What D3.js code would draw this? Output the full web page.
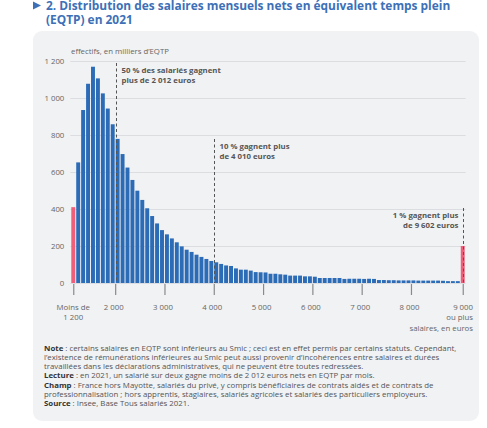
<!DOCTYPE html>
<html><head><meta charset="utf-8">
<script src="https://cdn.jsdelivr.net/npm/d3@7"></script>
<style>
html,body{margin:0;padding:0;background:#fff;}
svg{display:block;font-family:"Open Sans",sans-serif;}
</style></head>
<body><svg id="c" width="487" height="428"></svg>
<script>
// ---- data ----
const binStarts = d3.range(1200, 9000, 100); // 1200 ... 8900
const categories = ["<1200"].concat(binStarts.map(String)).concat([">=9000"]);
const values = [410,
 652,935,1077,1169,1106,1025,943,858,779,697,
 624,557,499,449,404,362,322,286,263,241,
 220,198,180,168,153,141,130,119,112,103,
 95,92,79,72,72,67,59,58,57,50,
 50,47,45,40,40,40,36,36,34,27,
 27,27,27,27,22,23,23,23,22,23,
 22,16,16,15,15,14,14,14,14,13,
 13,13,13,13,12,10,10,10,
 200];
const yTicks = [0,200,400,600,800,1000,1200];
const xTicks = [2000,3000,4000,5000,6000,7000,8000];
const markers = [
  {v:2012, top:63, lines:["50 % des salariés gagnent","plus de 2 012 euros"], anchor:"start"},
  {v:4010, top:139, lines:["10 % gagnent plus","de 4 010 euros"], anchor:"start"},
  {v:9050, top:208, lines:["1 % gagnent plus","de 9 602 euros"], anchor:"end"}
];
const title = ["2. Distribution des salaires mensuels nets en équivalent temps plein","(EQTP) en 2021"];
const notes = [
  [["Note",true],[" : certains salaires en EQTP sont inférieurs au Smic ; ceci est en effet permis par certains statuts. Cependant,",false]],
  [["l’existence de rémunérations inférieures au Smic peut aussi provenir d’incohérences entre salaires et durées",false]],
  [["travaillées dans les déclarations administratives, qui ne peuvent être toutes redressées.",false]],
  [["Lecture",true],[" : en 2021, un salarié sur deux gagne moins de 2 012 euros nets en EQTP par mois.",false]],
  [["Champ",true],[" : France hors Mayotte, salariés du privé, y compris bénéficiaires de contrats aidés et de contrats de",false]],
  [["professionnalisation ; hors apprentis, stagiaires, salariés agricoles et salariés des particuliers employeurs.",false]],
  [["Source",true],[" : Insee, Base Tous salariés 2021.",false]]
];

// ---- layout ----
const svg = d3.select("#c");
const blue = "#2c6cb7", pink = "#ef5f7a", txt = "#666";
const X0 = 70.8, X1 = 465.2, Y0 = 283, Y1 = 61;

// page title
svg.append("path").attr("d","M33,1.5 L41,5.5 L33,9.5 Z").attr("fill","#3d70b7");
const tt = svg.append("text").attr("font-size",11.9).attr("font-weight",700).attr("fill","#3d70b7");
title.forEach((t,i)=>tt.append("tspan").attr("x",46).attr("y",10+i*14).text(t));

// panel
svg.append("rect").attr("x",33).attr("y",31).attr("width",446).attr("height",390).attr("rx",9).attr("fill","#f1f2f4");

const x = d3.scaleBand().domain(categories).range([X0,X1]).paddingInner(0.2).paddingOuter(0.1);
const xLin = d3.scaleLinear().domain([1100,9100]).range([X0,X1]);
const y = d3.scaleLinear().domain([0,1200]).range([Y0,Y1]);
const fmt = d3.formatLocale({decimal:",",thousands:"\u202f",grouping:[3],currency:["","€"]}).format(",");
const fmtS = v => fmt(v).replace(/\u202f/g," ");

// gridlines + y labels
const yAxis = svg.append("g").attr("transform",`translate(${X0-0.5},0)`)
  .call(d3.axisLeft(y).tickValues(yTicks).tickSize(-(X1-X0+1)).tickFormat(fmtS).tickPadding(6));
yAxis.select(".domain").remove();
yAxis.selectAll(".tick line").attr("stroke","#dcdde0").attr("stroke-width",1);
yAxis.selectAll(".tick text").attr("fill",txt).attr("font-size",7.8).attr("font-family","Open Sans");

svg.append("text").attr("x",71).attr("y",54).attr("font-size",7.8).attr("fill",txt).text("effectifs, en milliers d’EQTP");

// bars
svg.append("g").selectAll("rect").data(categories).join("rect")
  .attr("x",d=>x(d)).attr("width",x.bandwidth())
  .attr("y",(d,i)=>y(values[i])).attr("height",(d,i)=>y(0)-y(values[i]))
  .attr("fill",(d,i)=>(i===0||i===categories.length-1)?pink:blue);

// x axis
const xAxis = svg.append("g").attr("transform",`translate(0,${Y0+1})`)
  .call(d3.axisBottom(xLin).tickValues([1150].concat(xTicks).concat([9050])).tickSize(11).tickFormat(""));
xAxis.select(".domain").remove();
xAxis.selectAll(".tick line").attr("stroke","#8a8a8a").attr("stroke-width",1.2);
const xl = svg.append("g").attr("font-size",7.8).attr("fill",txt);
xTicks.forEach(v=>xl.append("text").attr("x",xLin(v)-1.5).attr("y",310).attr("text-anchor","middle").text(fmtS(v)));
xl.append("text").attr("x",xLin(1150)).attr("y",310).attr("text-anchor","middle").text("Moins de");
xl.append("text").attr("x",xLin(1150)).attr("y",319.5).attr("text-anchor","middle").text(fmtS(1200));
xl.append("text").attr("x",473).attr("y",310).attr("text-anchor","end").text(fmtS(9000));
xl.append("text").attr("x",473).attr("y",319.5).attr("text-anchor","end").text("ou plus");
xl.append("text").attr("x",473).attr("y",330.5).attr("text-anchor","end").text("salaires, en euros");

// markers
markers.forEach(m=>{
  const xp = Math.round(xLin(m.v))+0.5;
  svg.append("line").attr("x1",xp).attr("x2",xp).attr("y1",m.top).attr("y2",Y0)
    .attr("stroke","#555").attr("stroke-width",1).attr("stroke-dasharray","3,2.5");
  const tx = m.anchor==="start" ? xp+5 : xp-5;
  const t = svg.append("text").attr("font-size",7.8).attr("font-weight",700).attr("fill","#555").attr("text-anchor",m.anchor);
  m.lines.forEach((l,i)=>t.append("tspan").attr("x",tx).attr("y",m.top+10+i*9.5).text(l));
});

// notes
notes.forEach((ln,i)=>{
  const t = svg.append("text").attr("x",44).attr("y",351+i*9.15).attr("font-size",7.85).attr("fill","#555");
  ln.forEach(([s,b])=>t.append("tspan").attr("font-weight",b?700:400).attr("fill",b?"#333":"#555").text(s));
});
</script></body></html>
